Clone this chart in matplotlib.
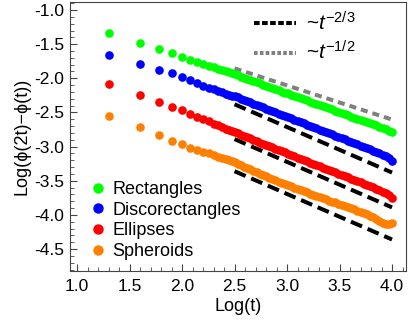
import matplotlib
matplotlib.use("Agg")
import matplotlib.pyplot as plt
from matplotlib.lines import Line2D
from matplotlib.ticker import MultipleLocator
import numpy as np

plt.rcParams['font.family'] = ['Liberation Sans', 'DejaVu Sans']
plt.rcParams['mathtext.fontset'] = 'custom'
plt.rcParams['mathtext.rm'] = 'Liberation Sans'
plt.rcParams['mathtext.it'] = 'Liberation Sans:italic'

# early sample times (t = 20 ... 300), then log(t) grid for the dense part
t_early = [20, 40, 60, 80, 100, 120, 140, 160, 180, 200, 220, 240, 260, 280, 300]
logt_late = [2.50, 2.53, 2.56, 2.59, 2.62, 2.65, 2.68, 2.71, 2.74, 2.77,
             2.80, 2.83, 2.86, 2.89, 2.92, 2.95, 2.98, 3.01, 3.04, 3.07,
             3.10, 3.13, 3.16, 3.19, 3.22, 3.25, 3.28, 3.31, 3.34, 3.37,
             3.40, 3.43, 3.46, 3.49, 3.52, 3.55, 3.58, 3.61, 3.64, 3.67,
             3.70, 3.73, 3.76, 3.79, 3.82, 3.85, 3.88, 3.91, 3.94, 3.97, 4.00]

rect_early = [-1.340, -1.478, -1.566, -1.634, -1.683, -1.727, -1.766, -1.793,
              -1.820, -1.840, -1.860, -1.878, -1.895, -1.910, -1.925]
rect_late = [-1.940, -1.956, -1.975, -1.993, -2.010, -2.030, -2.046, -2.058, -2.072, -2.092,
             -2.112, -2.128, -2.141, -2.157, -2.175, -2.193, -2.208, -2.221, -2.238, -2.257,
             -2.276, -2.293, -2.306, -2.321, -2.340, -2.360, -2.374, -2.389, -2.408, -2.425,
             -2.440, -2.454, -2.472, -2.492, -2.508, -2.522, -2.540, -2.561, -2.577, -2.590,
             -2.607, -2.626, -2.644, -2.657, -2.671, -2.690, -2.711, -2.727, -2.744, -2.766, -2.790]

disco_early = [-1.654, -1.786, -1.874, -1.927, -1.981, -2.030, -2.069, -2.108,
               -2.135, -2.160, -2.183, -2.205, -2.227, -2.245, -2.255]
disco_late = [-2.262, -2.279, -2.298, -2.318, -2.336, -2.352, -2.372, -2.393, -2.410, -2.426,
              -2.445, -2.465, -2.483, -2.499, -2.516, -2.536, -2.555, -2.571, -2.588, -2.607,
              -2.626, -2.643, -2.660, -2.679, -2.698, -2.714, -2.731, -2.750, -2.769, -2.786,
              -2.803, -2.822, -2.841, -2.858, -2.875, -2.894, -2.913, -2.930, -2.947, -2.966,
              -2.986, -3.003, -3.020, -3.040, -3.060, -3.078, -3.097, -3.118, -3.140, -3.168, -3.211]

ell_early = [-2.079, -2.244, -2.342, -2.420, -2.469, -2.523, -2.567, -2.600,
             -2.632, -2.662, -2.688, -2.713, -2.735, -2.757, -2.776]
ell_late = [-2.790, -2.806, -2.826, -2.846, -2.864, -2.881, -2.902, -2.922, -2.940, -2.956,
            -2.975, -2.994, -3.012, -3.030, -3.049, -3.069, -3.086, -3.103, -3.121, -3.141,
            -3.160, -3.176, -3.193, -3.213, -3.233, -3.250, -3.266, -3.286, -3.306, -3.324,
            -3.340, -3.358, -3.379, -3.398, -3.414, -3.431, -3.451, -3.471, -3.489, -3.505,
            -3.524, -3.545, -3.564, -3.580, -3.598, -3.619, -3.640, -3.659, -3.679, -3.712, -3.757]

sph_early = [-2.547, -2.713, -2.830, -2.918, -2.962, -3.016, -3.050, -3.080,
             -3.100, -3.125, -3.145, -3.165, -3.185, -3.200, -3.215]
sph_late = [-3.232, -3.250, -3.272, -3.295, -3.316, -3.334, -3.356, -3.377, -3.395, -3.414,
            -3.436, -3.458, -3.476, -3.494, -3.515, -3.534, -3.548, -3.562, -3.580, -3.600,
            -3.619, -3.635, -3.650, -3.668, -3.690, -3.709, -3.722, -3.735, -3.752, -3.772,
            -3.790, -3.805, -3.818, -3.833, -3.851, -3.870, -3.886, -3.899, -3.915, -3.936,
            -3.958, -3.975, -3.990, -4.010, -4.035, -4.062, -4.090, -4.120, -4.138, -4.135, -4.123]

labels = ['Rectangles', 'Discorectangles', 'Ellipses', 'Spheroids']
colors = ['#00ff00', '#0000ff', '#ff0000', '#ff8000']
series = [(rect_early, rect_late), (disco_early, disco_late),
          (ell_early, ell_late), (sph_early, sph_late)]

# power-law guides: start value at log(t)=2.5, running to log(t)=4
guide_x = [2.5, 4.0]
guide_23_start = [-2.38, -2.89, -3.36]
guide_12_start = -1.854

fig = plt.figure(figsize=(4.09, 3.24), dpi=100)
ax = fig.add_axes([70 / 409, 53.3 / 324, 336 / 409, 269 / 324])

x_all = list(np.log10(t_early)) + logt_late
for (ye, yl), c in zip(series, colors):
    ax.plot(x_all, ye + yl, 'o', color=c, ms=6.2, mec='none', zorder=3)

gx = np.array(guide_x)
for y0 in guide_23_start:
    ax.plot(gx, y0 - 2 / 3 * (gx - gx[0]), color='black', lw=2.9,
            dashes=(3.0, 1.5), solid_capstyle='butt', zorder=2)
ax.plot(gx, guide_12_start - 0.5 * (gx - gx[0]), color='#808080', lw=2.9,
        dashes=(1.75, 1.25), zorder=2)

ax.set_xlim(0.933, 4.133)
ax.set_ylim(-4.817, -0.878)
ax.xaxis.set_major_locator(MultipleLocator(0.5))
ax.xaxis.set_minor_locator(MultipleLocator(0.1))
ax.yaxis.set_major_locator(MultipleLocator(0.5))
ax.yaxis.set_minor_locator(MultipleLocator(0.1))
ax.xaxis.set_major_formatter(matplotlib.ticker.FormatStrFormatter('%.1f'))
ax.yaxis.set_major_formatter(matplotlib.ticker.FormatStrFormatter('%.1f'))
ax.tick_params(which='both', direction='in', labelsize=12.5, color='#444444')
ax.tick_params(which='major', length=5, width=0.8)
ax.tick_params(which='minor', length=2.7, width=0.6)
ax.tick_params(axis='x', pad=6)
ax.tick_params(axis='y', pad=4)
for s in ax.spines.values():
    s.set_color('#444444')
    s.set_linewidth(0.8)

ax.set_xlabel('Log(t)', fontsize=13, labelpad=3)
ax.set_ylabel('Log(ϕ(2t)−ϕ(t))', fontsize=13, labelpad=3)

h_lines = [Line2D([], [], color='black', lw=2.9, dashes=(1.4, 0.6)),
           Line2D([], [], color='#808080', lw=2.9, dashes=(0.9, 0.55))]
leg1 = ax.legend(h_lines, ['~$t^{-2/3}$', '~$t^{-1/2}$'], loc='upper left',
                 bbox_to_anchor=(0.535, 0.98), frameon=False, fontsize=15,
                 handlelength=2.0, handletextpad=0.5, labelspacing=0.3,
                 borderaxespad=0.0, borderpad=0.2)
ax.add_artist(leg1)

h_pts = [Line2D([], [], ls='none', marker='o', color=c, ms=7.5, mec='none') for c in colors]
ax.legend(h_pts, labels, loc='lower left', bbox_to_anchor=(0.03, 0.0),
          frameon=False, fontsize=13, handlelength=0.8, handletextpad=0.4,
          labelspacing=0.2, borderaxespad=0.2)

fig.savefig('out.png', dpi=100)
